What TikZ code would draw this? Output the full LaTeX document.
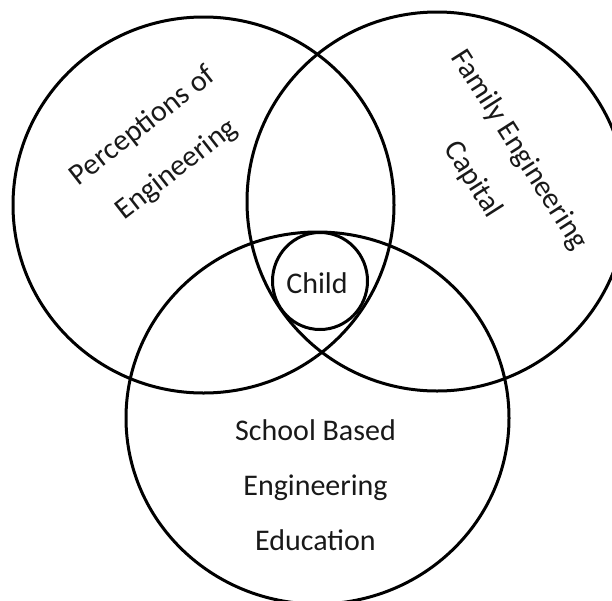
\documentclass[tikz,border=0pt]{standalone}
\usepackage{fontspec}
\setmainfont{Carlito}
\usetikzlibrary{shapes.geometric}
\begin{document}
\begin{tikzpicture}[x=1pt,y=-1pt,
  ring/.style={draw=black, line width=3pt, ellipse, inner sep=0pt, fill=none},
  lbl/.style={font=\fontsize{30}{55}\selectfont, align=center, inner sep=0pt, text=black!90}]
\useasboundingbox (0,0) rectangle (612,600);
\clip (0,0) rectangle (612,600);
\node[ring, minimum width=381pt, minimum height=376pt] (perc) at (203.5,205) {};
\node[ring, minimum width=380pt, minimum height=379pt] (fam) at (437,201.5) {};
\node[ring, minimum width=383pt, minimum height=372pt] (school) at (317.5,418) {};
\node[ring, minimum width=95pt, minimum height=97pt] (child) at (320,281) {};
\node[lbl, anchor=base] (childtxt) at (317,293) {Child};
\node[lbl, rotate=38] (perctxt) at (160,148) {Perceptions of\\Engineering};
\node[lbl, rotate=-57.5] (famtxt) at (496,165) {Family Engineering\\Capital};
\node[lbl] (schooltxt) at (315.5,485) {School Based\\Engineering\\Education};
\end{tikzpicture}
\end{document}
